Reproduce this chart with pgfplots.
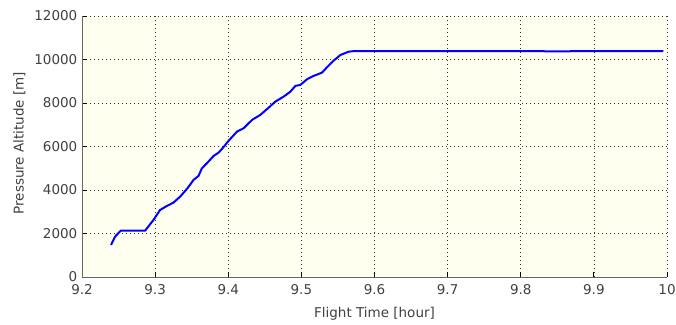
\documentclass[border=0pt]{standalone}
\usepackage{pgfplots}
\pgfplotsset{compat=1.18}
\usepackage{fontspec}
\setmainfont{DejaVu Sans}
\definecolor{bgy}{RGB}{255,255,240}
\begin{document}
\fontsize{13.5pt}{16pt}\selectfont
\begin{tikzpicture}[x=1pt,y=1pt]
\useasboundingbox (-82pt,-47pt) rectangle (594pt,277pt);
\begin{axis}[
  at={(0pt,0pt)}, anchor=south west,
  scale only axis, width=585pt, height=261pt,
  xmin=9.2, xmax=10, ymin=0, ymax=12000,
  xtick={9.2,9.3,...,10.01},
  xticklabels={9.2,9.3,9.4,9.5,9.6,9.7,9.8,9.9,10},
  ytick={0,2000,...,12000},
  scaled y ticks=false,
  yticklabel style={/pgf/number format/.cd,fixed,1000 sep={}},
  /pgf/number format/assume math mode=true,
  axis x line*=bottom, axis y line*=left,
  tick align=inside, major tick length=5pt,
  tick style={black, line width=0.8pt},
  axis line style={black!60, line width=0.8pt},
  grid=major, major grid style={black!80, line width=0.7pt, dash pattern=on 0.8pt off 3.2pt},
  axis background/.style={fill=bgy},
  tick label style={font=\fontsize{13.5pt}{16pt}\selectfont, text=black!75},
  xticklabel style={yshift=-3pt},
  label style={font=\fontsize{13.5pt}{16pt}\selectfont, text=black!75},
  xlabel={Flight Time [hour]},
  ylabel={Pressure Altitude [m]},
  xlabel style={at={(axis description cs:0.5,-0.14)}, anchor=center},
  ylabel style={at={(axis description cs:-0.107,0.513)}, anchor=center},
]
\addplot[blue, line width=2pt] coordinates {
(9.2397,1472) (9.2452,1855) (9.2530,2130) (9.2863,2130) (9.2977,2622)
(9.3068,3082) (9.3160,3266) (9.3250,3418) (9.3342,3694) (9.3442,4080)
(9.3525,4462) (9.3593,4646) (9.3640,5000) (9.3708,5230) (9.3800,5566)
(9.3868,5718) (9.3930,5950) (9.4004,6260) (9.4119,6684) (9.4210,6840)
(9.4325,7222) (9.4438,7452) (9.4553,7788) (9.4644,8064) (9.4758,8294)
(9.4850,8524) (9.4918,8786) (9.4986,8832) (9.5078,9094) (9.5168,9246)
(9.5283,9398) (9.5351,9646) (9.5442,9950) (9.5534,10207) (9.5647,10360)
(9.5716,10385) (9.6500,10380) (9.7500,10385) (9.8500,10378) (9.9200,10383)
(9.9950,10380)
};
\end{axis}
\end{tikzpicture}
\end{document}
